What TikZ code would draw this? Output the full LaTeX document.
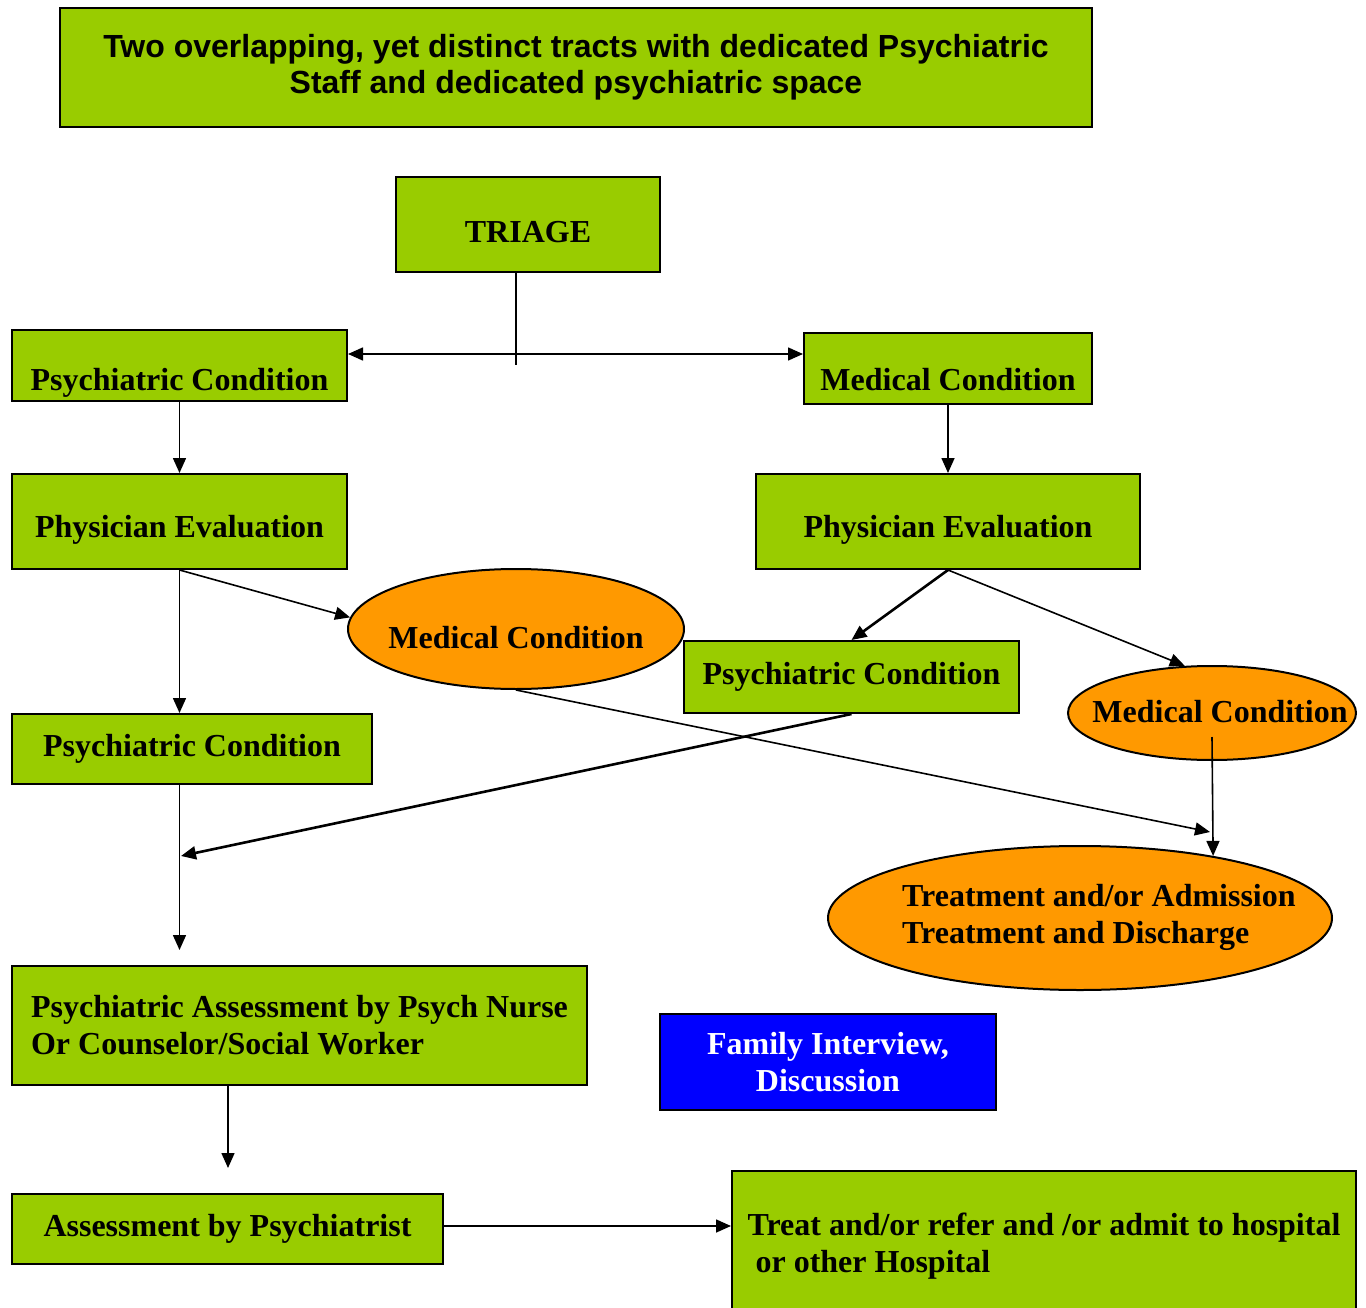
\documentclass[tikz,border=0pt]{standalone}
\usepackage{fontspec}
\setmainfont{Liberation Serif}
\setsansfont{Liberation Sans}
\usetikzlibrary{arrows.meta,shapes.geometric}
\definecolor{leaf}{HTML}{99CC00}
\definecolor{amber}{HTML}{FF9900}
\definecolor{royal}{HTML}{0000FF}

\begin{document}
\begin{tikzpicture}[x=1pt,y=-1pt,
		>={Triangle[length=15pt,width=13pt]},
		txt/.style={font=\bfseries\fontsize{32}{37}\selectfont},
		gbox/.style={draw, line width=2pt, fill=leaf, inner ysep=0pt, txt},
		oval/.style={ellipse, draw, line width=2pt, fill=amber, inner sep=0pt},
		link/.style={line width=1.6pt, ->},
		boldlink/.style={link, line width=2.6pt}]
			\useasboundingbox (0,0) rectangle (1366,1308);

			% Heading
			\node[gbox, font=\sffamily\bfseries\fontsize{32}{36}\selectfont, align=center, minimum width=1032, minimum height=119] (head) at (576,67.5) {Two overlapping, yet distinct tracts with dedicated Psychiatric\\Staff and dedicated psychiatric space};

			% Triage and the two tracts
			\node[gbox, minimum width=264, minimum height=95, text height=43pt, text depth=7pt] (triage) at (528,224.5) {TRIAGE};
			\node[gbox, minimum width=335, minimum height=71, text height=57pt, text depth=7pt] (psychTop) at (179.5,365.5) {Psychiatric Condition};
			\node[gbox, minimum width=288, minimum height=71, text height=51pt, text depth=7pt] (medTop) at (948,368.5) {Medical Condition};
			\node[gbox, minimum width=335, minimum height=95, text height=39pt, text depth=7pt] (physL) at (179.5,521.5) {Physician Evaluation};
			\node[gbox, minimum width=384, minimum height=95, text height=39pt, text depth=7pt] (physR) at (948,521.5) {Physician Evaluation};

			% Second level
			\node[oval, minimum width=336, minimum height=120] (medL) at (516,629) {};
			\node[txt] (medLtxt) at (516,638) {Medical Condition};
			\node[gbox, minimum width=335, minimum height=72] (psychR) at (851.5,677) {Psychiatric Condition};
			\node[oval, minimum width=288, minimum height=94] (medR) at (1212,713) {};
			\node[txt] (medRtxt) at (1220,712) {Medical Condition};
			\node[gbox, minimum width=360, minimum height=70] (psychL2) at (192,749) {Psychiatric Condition};
			\node[oval, minimum width=504, minimum height=144] (treat) at (1080,918) {};
			\node[txt, align=left, anchor=west, inner sep=0pt] (treatTxt) at (902,917) {Treatment and/or Admission\\Treatment and Discharge};

			% Bottom
			\node[gbox, align=left, minimum width=575, minimum height=119] (assess) at (299.5,1025.5) {Psychiatric Assessment by Psych Nurse\\Or Counselor/Social Worker};
			\node[gbox, fill=royal, text=white, align=center, minimum width=336, minimum height=96] (family) at (828,1062) {Family Interview,\\Discussion};
			\node[gbox, minimum width=431, minimum height=70] (psychiatrist) at (227.5,1229) {Assessment by Psychiatrist};
			\node[gbox, align=left, minimum width=624, minimum height=150] (refer) at (1044,1246) {Treat and/or refer and /or admit to hospital\\\ or other Hospital};

			% Connectors
			\coordinate (split) at (516,365);
			\coordinate (fork) at (516,354);
			\draw[line width=1.6pt] (split |- triage.south) -- (split);
			\draw[link, <->] (fork -| psychTop.east) -- (fork -| medTop.west);
			\draw[link] (psychTop) -- (physL);
			\draw[link] (medTop) -- (physR);
			\draw[link] (physL.south) -- (medL.176);
			\draw[link] (physL.south) -- (physL.south |- psychL2.north);
			\draw[boldlink] (physR.south) -- (psychR.north);
			\draw[link] (physR.south) -- (medR.120);
			\coordinate (medDrop) at (1212,737);
			\draw[link] (medDrop) -- (treat.25);
			\coordinate (meet) at (1210,832);
			\draw[link] (medL.south) -- (meet);
			\coordinate (merge) at (181,856);
			\draw[boldlink] (psychR.south) -- (merge);
			\coordinate (stub1) at (179.5,950);
			\draw[link] (stub1 |- psychL2.south) -- (stub1);
			\coordinate (stub2) at (228,1168);
			\draw[link] (stub2 |- assess.south) -- (stub2);
			\draw[link] ([yshift=3pt]psychiatrist.east) -- ([yshift=3pt]psychiatrist.east -| refer.west);
		\end{tikzpicture}
\end{document}
